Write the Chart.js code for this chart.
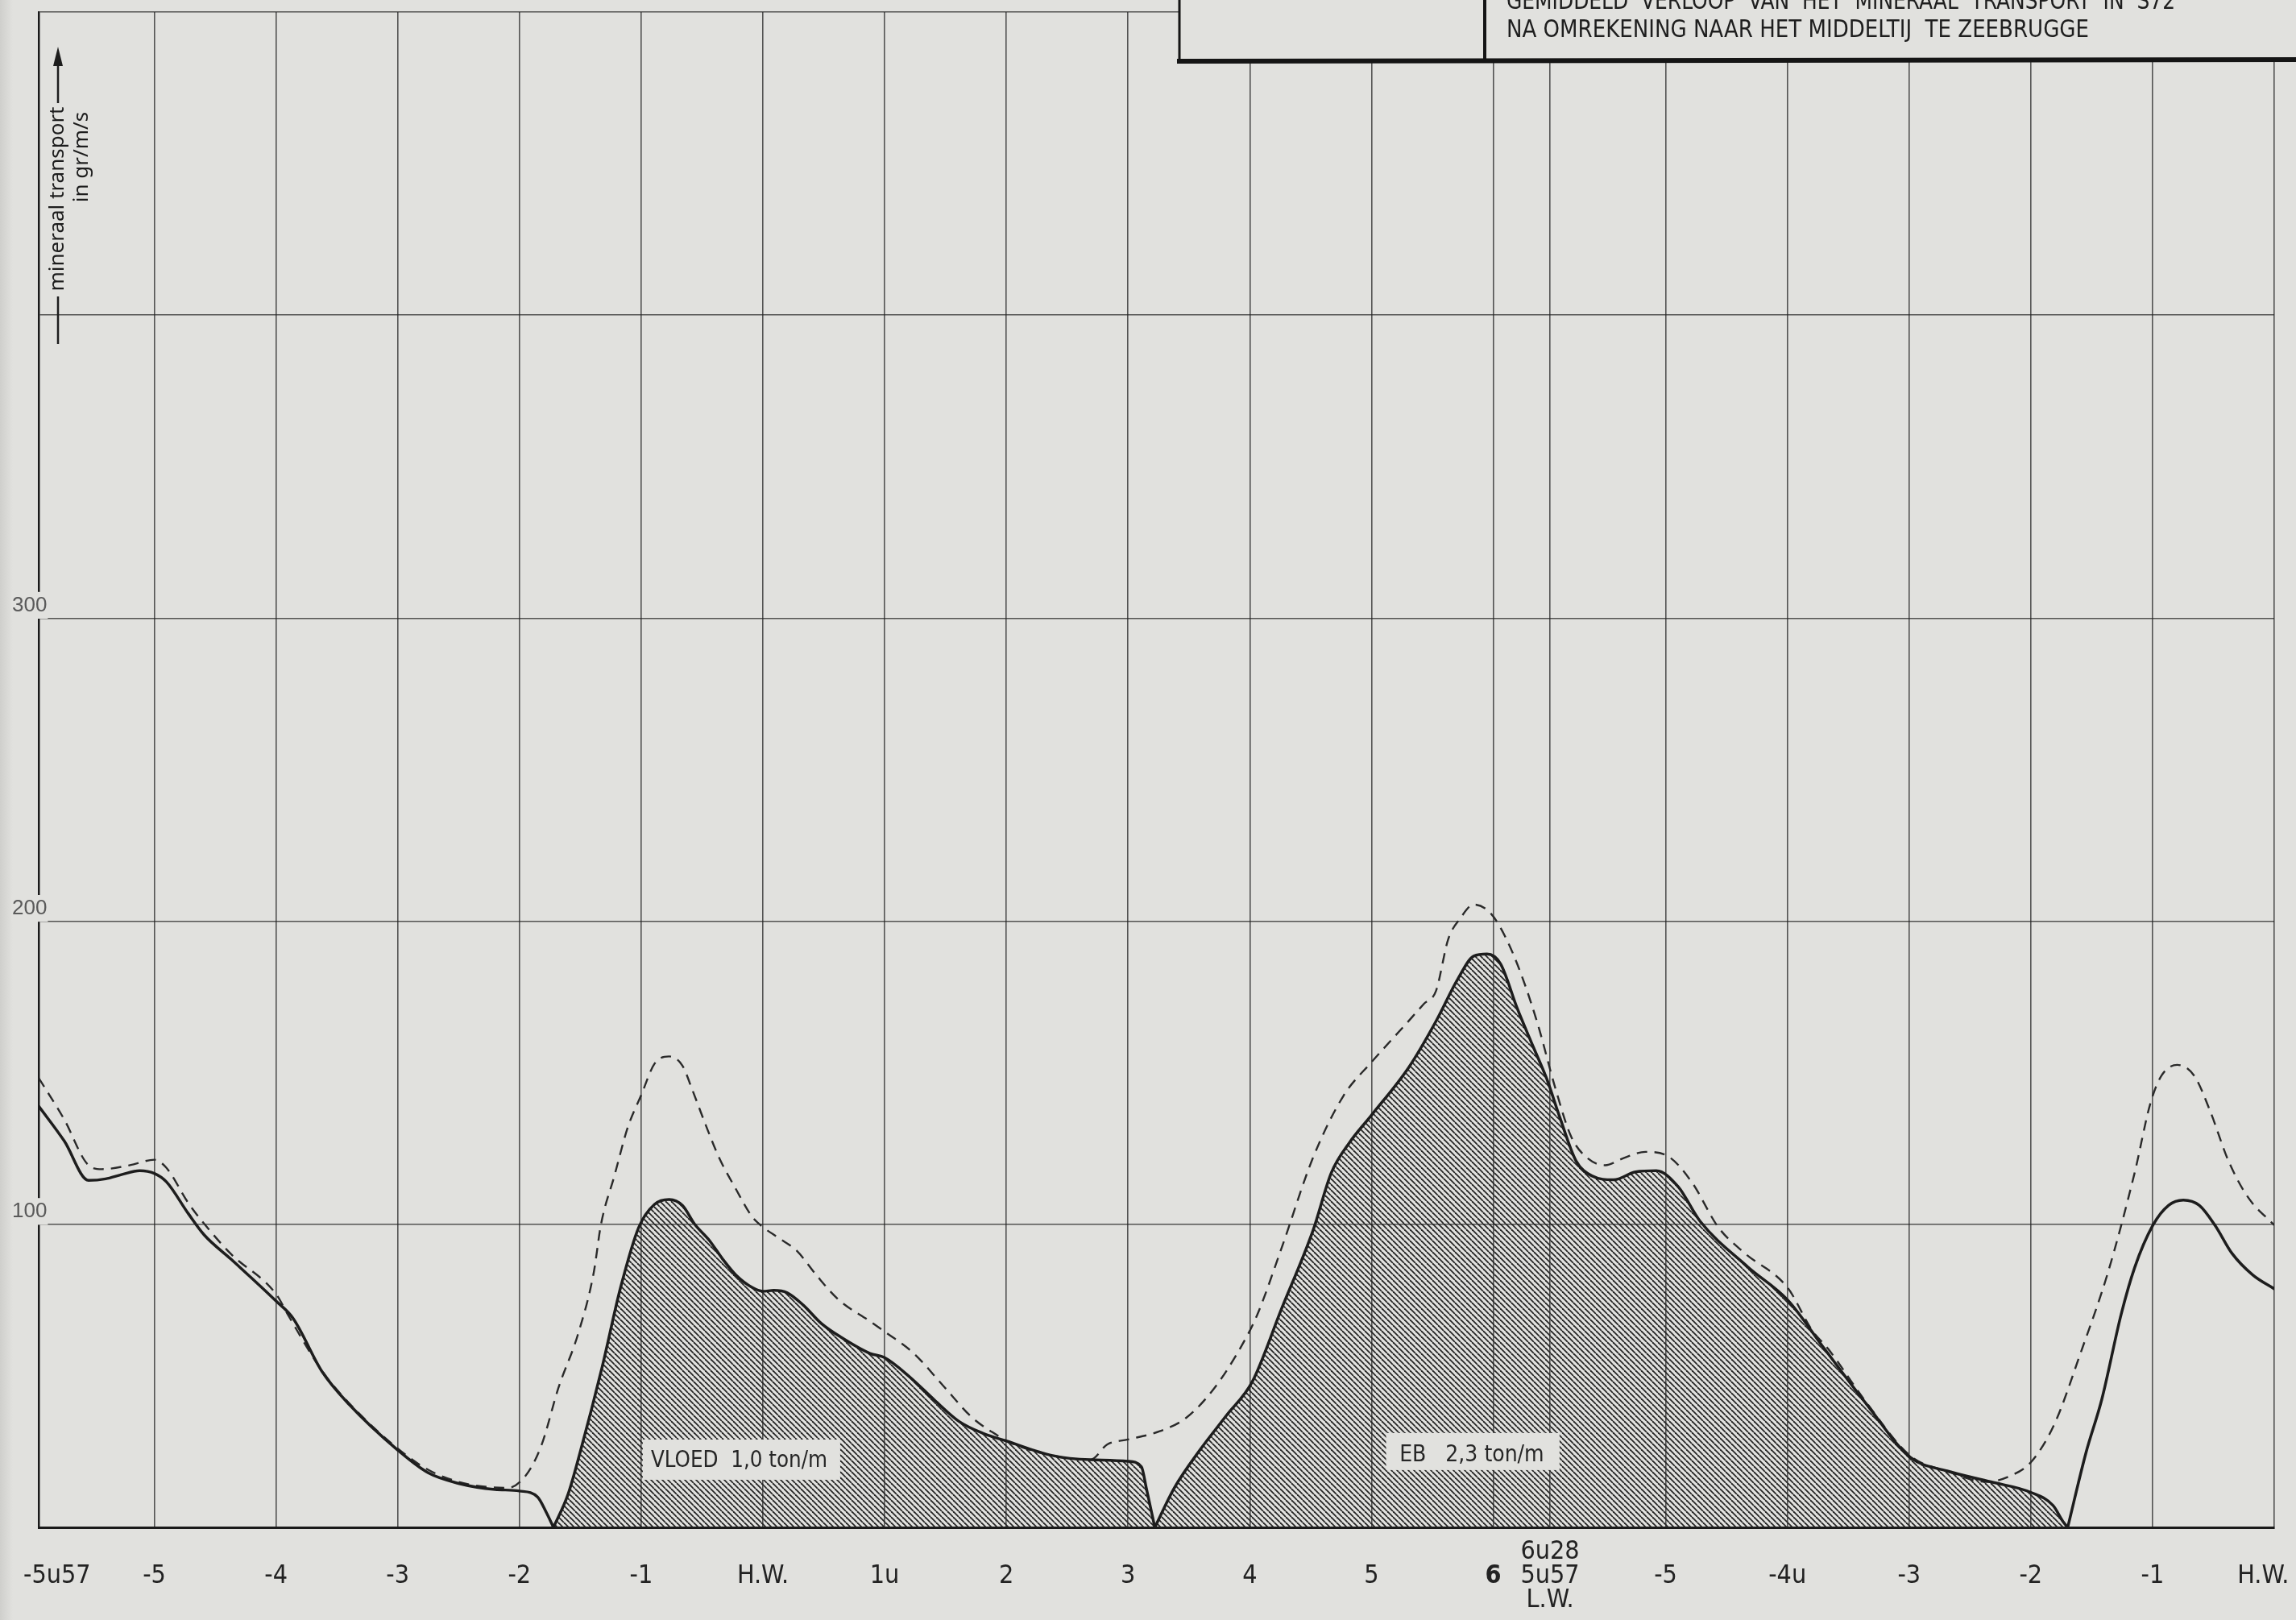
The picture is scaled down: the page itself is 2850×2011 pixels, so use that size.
<!DOCTYPE html>
<html>
<head>
<meta charset="utf-8">
<title>Mineraal transport S72</title>
<script src="https://cdn.jsdelivr.net/npm/chart.js@4.4.0/dist/chart.umd.min.js"></script>
<style>
  html, body { margin: 0; padding: 0; background: #e1e1de; }
  #wrap { position: relative; width: 2850px; height: 2011px; }
</style>
</head>
<body>
<div id="wrap"><canvas id="transport" width="2850" height="2011"></canvas></div>
<script>
// tijd in uren t.o.v. H.W. ; L.W. valt op 6u28, daarna telt men af naar het volgende H.W. (-5u57 ... H.W.)
var tickHours = [-5.95, -5, -4, -3, -2, -1, 0, 1, 2, 3, 4, 5, 6, 6.467, 7.417, 8.417, 9.417, 10.417, 11.417, 12.417];
var tickLabels = ["     -5u57", "-5", "-4", "-3", "-2", "-1", "H.W.", "1u", "2", "3", "4", "5", "6",
                  ["6u28", "5u57", "L.W."], "-5", "-4u", "-3", "-2", "-1", "H.W.   "];
var yGrid = [0, 100, 200, 300, 400, 500];
var yLabelled = [100, 200, 300];

// volle lijn voor het vloedtransport (niet gearceerd)
var beginHours  = [-5.95, -5.74, -5.54, -5.4, -5.27, -5.12, -5.0, -4.9, -4.72, -4.59, -4.37, -4.0, -3.86, -3.62, -3.4, -3.0, -2.75, -2.5, -2.2, -2.0, -1.85, -1.78, -1.72];
var beginValues = [139, 127.5, 114.5, 115, 116.4, 117.7, 116.8, 114, 103.5, 96.5, 88.5, 74.7, 69, 51.3, 40.6, 25.5, 18, 14.5, 12.5, 12, 10, 5, 0];

// VLOED 1,0 ton/m
var vloedHours  = [-1.72, -1.6, -1.5, -1.32, -1.17, -1.02, -0.89, -0.77, -0.66, -0.56, -0.44, -0.33, -0.22, -0.09, 0, 0.09, 0.2, 0.33, 0.48, 0.64, 0.88, 1.0, 1.21, 1.41, 1.61, 1.81, 2.0, 2.38, 2.69, 3.0, 3.11, 3.15, 3.22];
var vloedValues = [0, 11, 25, 53, 79, 99, 106.6, 108.2, 106.2, 100, 94.7, 88.5, 83.2, 79.2, 77.9, 78.2, 77.4, 73.4, 67.3, 62.8, 57.4, 56, 49.5, 42, 35, 31, 28.5, 23.7, 22.3, 21.8, 20, 13, 0];

// EB 2,3 ton/m
var ebHours  = [3.22, 3.38, 3.59, 3.81, 4.02, 4.26, 4.52, 4.67, 4.82, 5.0, 5.31, 5.53, 5.71, 5.84, 5.95, 6.06, 6.2, 6.33, 6.44, 6.55, 6.68, 6.81, 6.99, 7.17, 7.34, 7.52, 7.7, 8.09, 8.42, 8.72, 9.07, 9.43, 9.73, 10.09, 10.42, 10.6, 10.68, 10.72];
var ebValues = [0, 13, 25.5, 37, 48, 72, 98, 117, 127, 136, 152, 167, 181, 188.5, 189.2, 186, 171, 158.5, 148, 135, 121, 116, 114.7, 117.3, 117.7, 112.4, 101, 86, 75, 59, 40.5, 23, 18.6, 15, 11.5, 7.2, 2, 0];

// volgende vloed (niet gearceerd)
var eindHours  = [10.72, 10.87, 11.0, 11.16, 11.27, 11.42, 11.55, 11.67, 11.8, 11.93, 12.07, 12.24, 12.417];
var eindValues = [0, 24.6, 42.2, 70.4, 85.7, 99.7, 106.3, 108, 106.3, 99.7, 90.4, 83.3, 78.7];

// gestreepte lijn
var streepHours  = [-5.95, -5.74, -5.54, -5.43, -5.2, -5.0, -4.9, -4.72, -4.57, -4.37, -4.0, -3.9, -3.62, -3.4, -3.0, -2.75, -2.5, -2.3, -2.1, -1.95, -1.82, -1.68, -1.52, -1.39, -1.33, -1.22, -1.11, -1.0, -0.89, -0.77, -0.66, -0.58, -0.47, -0.36, -0.22, -0.09, 0, 0.13, 0.28, 0.44, 0.62, 0.88, 1.0, 1.24, 1.48, 1.72, 1.94, 2.0, 2.38, 2.69, 2.83, 3.0, 3.26, 3.48, 3.71, 3.92, 4.06, 4.26, 4.52, 4.77, 5.0, 5.27, 5.43, 5.53, 5.63, 5.73, 5.84, 5.98, 6.11, 6.24, 6.37, 6.51, 6.64, 6.77, 6.92, 7.08, 7.25, 7.43, 7.63, 7.85, 8.06, 8.42, 8.62, 8.75, 9.07, 9.43, 9.73, 10.05, 10.25, 10.42, 10.61, 10.83, 11.05, 11.27, 11.4, 11.49, 11.62, 11.76, 11.89, 12.04, 12.2, 12.417];
var streepValues = [148.3, 134.6, 119.5, 118.2, 119.5, 121.3, 118.6, 107, 99.2, 90.2, 77, 70, 51.5, 41, 26, 19, 15, 13.5, 13, 17, 27, 46, 63.6, 84, 100, 116, 132, 142.6, 153, 155.4, 152.3, 144.4, 132.8, 122, 111.5, 102.6, 99.1, 95.5, 91.2, 83.2, 75.2, 68, 64.6, 57.4, 46.8, 36.2, 30, 28.5, 23.7, 22.3, 27.4, 29, 31.7, 36.2, 46, 59, 70, 92, 122, 142.4, 153.5, 165.5, 172.7, 177, 194, 201, 205.5, 202.6, 194, 181.4, 165.5, 145, 129, 122, 119.5, 122, 123.9, 122.6, 114, 99, 90.7, 79, 65, 59, 41, 23.5, 18.5, 15, 17, 21.6, 34, 58, 84, 117, 140, 149, 152.6, 149, 137.4, 121, 109, 99.7];

var paper = '#e1e1de';
var ink = '#1d1d1d';
var narrow = '"DejaVu Sans Condensed", "Liberation Sans Narrow", "Liberation Sans", sans-serif';

function points(hours, values) {
    return hours.map(function(h, i) {
        return {x: h, y: values[i]};
    });
}

var ctx = document.getElementById("transport").getContext('2d');

// arcering van links-boven naar rechts-onder
function makeHatch() {
    var c = document.createElement('canvas');
    c.width = 7;
    c.height = 7;
    var g = c.getContext('2d');
    g.strokeStyle = '#262626';
    g.lineWidth = 1.8;
    for (var k = -1; k <= 1; k++) {
        g.beginPath();
        g.moveTo(k * 7, 0);
        g.lineTo(k * 7 + 7, 7);
        g.stroke();
    }
    return ctx.createPattern(c, 'repeat');
}
var hatch = makeHatch();

function curve(label, data, extra) {
    var ds = {
        label: label,
        data: data,
        borderColor: ink,
        borderWidth: 3.5,
        pointRadius: 0,
        fill: false,
        cubicInterpolationMode: 'monotone',
        borderCapStyle: 'round',
        borderJoinStyle: 'round'
    };
    for (var k in extra) ds[k] = extra[k];
    return ds;
}

// tekstvak over de arcering
function labelBox(chart, box) {
    var xs = chart.scales.x, ys = chart.scales.y, c = chart.ctx;
    var l = xs.getPixelForValue(box.from), r = xs.getPixelForValue(box.to);
    var t = ys.getPixelForValue(box.top), b = ys.getPixelForValue(box.bottom);
    c.save();
    c.fillStyle = paper;
    c.fillRect(l, t, r - l, b - t);
    c.fillStyle = '#262626';
    c.font = '28px ' + narrow;
    c.textBaseline = 'alphabetic';
    c.fillText(box.text, xs.getPixelForValue(box.textAt), ys.getPixelForValue(box.baseline), box.width);
    c.restore();
}

var labelBoxes = [
    {text: 'VLOED  1,0 ton/m', from: -0.986, to: 0.635, top: 29, bottom: 15.7, textAt: -0.92, baseline: 20, width: 219},
    {text: 'EB   2,3 ton/m', from: 5.12, to: 6.545, top: 31.1, bottom: 18.9, textAt: 5.23, baseline: 21.8, width: 183}
];

var decor = {
    id: 'decor',
    beforeDraw: function(chart) {
        var c = chart.ctx;
        c.save();
        c.fillStyle = paper;
        c.fillRect(0, 0, chart.width, chart.height);
        var grad = c.createLinearGradient(0, 0, 16, 0);
        grad.addColorStop(0, '#cfcfcc');
        grad.addColorStop(1, paper);
        c.fillStyle = grad;
        c.fillRect(0, 0, 16, chart.height);
        c.restore();
    },
    afterDatasetsDraw: function(chart) {
        labelBoxes.forEach(function(b) { labelBox(chart, b); });
    },
    afterDraw: function(chart) {
        var c = chart.ctx;
        c.save();
        // as-titel met pijl
        c.strokeStyle = ink;
        c.fillStyle = ink;
        c.lineWidth = 2.5;
        c.beginPath();
        c.moveTo(72, 427); c.lineTo(72, 368);
        c.moveTo(72, 128); c.lineTo(72, 78);
        c.stroke();
        c.beginPath();
        c.moveTo(72, 58); c.lineTo(66, 82); c.lineTo(78, 82); c.closePath();
        c.fill();
        c.translate(72, 247);
        c.rotate(-Math.PI / 2);
        c.textAlign = 'center';
        c.textBaseline = 'middle';
        c.font = '26px "Noto Sans", sans-serif';
        c.fillText('mineraal transport', 0, 0, 229);
        c.fillText('in gr/m/s', 52, 30, 116);
        c.restore();

        // titelkader rechtsboven
        c.save();
        c.fillStyle = paper;
        c.fillRect(1463, 0, chart.width - 1463, 77);
        c.strokeStyle = '#151515';
        c.lineWidth = 3;
        c.beginPath(); c.moveTo(1464, 0); c.lineTo(1464, 77); c.stroke();
        c.lineWidth = 4;
        c.beginPath(); c.moveTo(1843, 0); c.lineTo(1843, 77); c.stroke();
        c.lineWidth = 6;
        c.beginPath(); c.moveTo(1461, 76); c.lineTo(chart.width, 74); c.stroke();
        c.fillStyle = '#1e1e1e';
        c.font = '31px ' + narrow;
        c.textBaseline = 'alphabetic';
        c.fillText('GEMIDDELD  VERLOOP  VAN  HET  MINERAAL  TRANSPORT  IN  S72', 1870, 11, 830);
        c.fillText('NA OMREKENING NAAR HET MIDDELTIJ  TE ZEEBRUGGE', 1870, 46, 723);
        c.restore();
    }
};

var gridColor = 'rgba(35,35,35,0.75)';

var myChart = new Chart(ctx, {
    type: 'line',
    data: {
        datasets: [
            curve('begin', points(beginHours, beginValues), {}),
            curve('VLOED', points(vloedHours, vloedValues), {fill: 'origin', backgroundColor: hatch}),
            curve('EB', points(ebHours, ebValues), {fill: 'origin', backgroundColor: hatch}),
            curve('eind', points(eindHours, eindValues), {}),
            curve('streep', points(streepHours, streepValues), {borderWidth: 2.4, borderDash: [13, 9], borderColor: '#2a2a2a', borderCapStyle: 'butt'})
        ]
    },
    options: {
        responsive: false,
        devicePixelRatio: 1,
        animation: false,
        layout: {padding: {top: 15, right: 27, left: 0, bottom: 0}},
        plugins: {legend: {display: false}, tooltip: {enabled: false}},
        scales: {
            x: {
                type: 'linear',
                min: -5.95,
                max: 12.417,
                afterBuildTicks: function(scale) {
                    scale.ticks = tickHours.map(function(h) { return {value: h}; });
                },
                afterFit: function(scale) {
                    scale.height = 115;
                    // de uiterste labels mogen buiten het kader vallen
                    scale.paddingLeft = 0;
                    scale.paddingRight = 0;
                },
                ticks: {
                    autoSkip: false,
                    maxRotation: 0,
                    padding: 31,
                    crossAlign: 'center',
                    color: '#222',
                    font: function(c) {
                        return {family: narrow, size: 32, lineHeight: 0.94, weight: c.tick && c.tick.value === 6 ? 'bold' : 'normal'};
                    },
                    callback: function(v, i) { return tickLabels[i]; }
                },
                grid: {
                    // de linkerrand komt van de y-as
                    color: function(c) { return c.index === 0 ? 'rgba(0,0,0,0)' : gridColor; },
                    lineWidth: 1.6,
                    drawTicks: false
                },
                border: {color: '#1a1a1a', width: 3}
            },
            y: {
                min: 0,
                max: 500,
                afterBuildTicks: function(scale) {
                    scale.ticks = yGrid.map(function(v) { return {value: v}; });
                },
                afterFit: function(scale) {
                    scale.width = 48;
                    scale.paddingTop = 0;
                    scale.paddingBottom = 0;
                },
                ticks: {
                    // gespiegeld zodat het label over de as mag lopen
                    mirror: true,
                    padding: -33,
                    labelOffset: -16,
                    color: '#5a5a5a',
                    font: {family: '"Liberation Sans", sans-serif', size: 26},
                    showLabelBackdrop: function(c) { return yLabelled.indexOf(c.tick.value) >= 0; },
                    backdropColor: paper,
                    backdropPadding: 1,
                    callback: function(v) { return yLabelled.indexOf(v) >= 0 ? String(v) : ''; }
                },
                grid: {color: gridColor, lineWidth: 1.6, drawTicks: false},
                border: {color: '#1a1a1a', width: 2.5}
            }
        }
    },
    plugins: [decor]
});
</script>
</body>
</html>
